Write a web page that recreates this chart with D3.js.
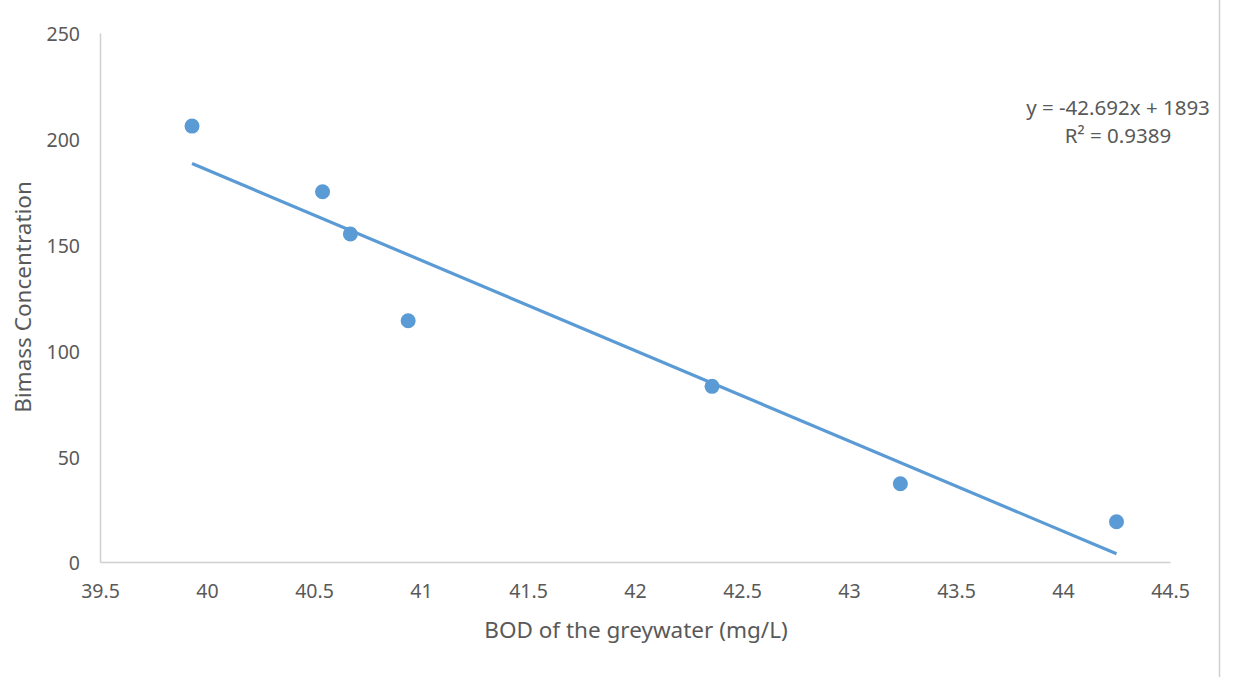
<!DOCTYPE html>
<html>
<head>
<meta charset="utf-8">
<script src="https://cdn.jsdelivr.net/npm/d3@7"></script>
<style>
  body { margin: 0; background: #fff; }
  text { font-family: "Noto Sans", "Open Sans", sans-serif; fill: #595959; }
</style>
</head>
<body>
<div id="chart"></div>
<script>
// data
var bodValues = [39.93, 40.54, 40.67, 40.94, 42.36, 43.24, 44.25];
var biomassValues = [206, 175, 155, 114, 83, 37, 19];
var xTicks = [39.5, 40, 40.5, 41, 41.5, 42, 42.5, 43, 43.5, 44, 44.5];
var yTicks = [0, 50, 100, 150, 200, 250];
var slope = -42.692;
var intercept = 1893;
var eqLabel = "y = -42.692x + 1893";
var r2Label = "R\u00b2 = 0.9389";

var totalW = 1233, totalH = 677;
var margin = {top: 33, right: 63, bottom: 115, left: 100};
const width = totalW - margin.left - margin.right;
const height = totalH - margin.top - margin.bottom;

var svg = d3.select("#chart").append("svg")
    .attr("width", totalW)
    .attr("height", totalH);

var g = svg.append("g")
    .attr("transform", "translate(" + margin.left + "," + margin.top + ")");

const xScale = d3.scaleLinear().domain([39.5, 44.5]).range([0, width]);
const yScale = d3.scaleLinear().domain([0, 250]).range([height, 0]);

// axes
var yAxis = g.append("g")
    .call(d3.axisLeft(yScale).tickValues(yTicks).tickSize(0).tickPadding(20));
yAxis.select(".domain").attr("stroke", "#d0d0d0").attr("stroke-width", 1.5);
yAxis.selectAll("text")
    .style("font-size", "19.5px")
    .attr("dy", "0.4em")
    .attr("fill", "#595959");

var xAxis = g.append("g")
    .attr("transform", "translate(0," + height + ")")
    .call(d3.axisBottom(xScale).tickValues(xTicks).tickSize(0).tickPadding(22)
        .tickFormat(function(d) { return String(d); }));
xAxis.select(".domain").attr("stroke", "#d0d0d0").attr("stroke-width", 1.5);
xAxis.selectAll("text").style("font-size", "19.5px").attr("fill", "#595959");

// trend line
var xMin = d3.min(bodValues), xMax = d3.max(bodValues);
g.append("line")
    .attr("x1", xScale(xMin))
    .attr("y1", yScale(slope * xMin + intercept))
    .attr("x2", xScale(xMax))
    .attr("y2", yScale(slope * xMax + intercept))
    .attr("stroke", "#5B9BD5")
    .attr("stroke-width", 3.2);

// points
g.selectAll(".dot")
    .data(bodValues)
    .enter().append("circle")
    .attr("class", "dot")
    .attr("cx", function(d) { return xScale(d); })
    .attr("cy", function(d, i) { return yScale(biomassValues[i]); })
    .attr("r", 7.5)
    .attr("fill", "#5B9BD5");

// equation
svg.append("text")
    .attr("x", 1118).attr("y", 115)
    .style("font-size", "20.5px")
    .style("text-anchor", "middle")
    .text(eqLabel);
svg.append("text")
    .attr("x", 1118).attr("y", 143)
    .style("font-size", "20.5px")
    .style("text-anchor", "middle")
    .text(r2Label);

// axis titles
svg.append("text")
    .attr("transform", "translate(31," + 297 + ") rotate(-90)")
    .style("font-size", "22.5px")
    .style("text-anchor", "middle")
    .text("Bimass Concentration");

svg.append("text")
    .attr("x", 636)
    .attr("y", 638)
    .style("font-size", "22.5px")
    .style("text-anchor", "middle")
    .text("BOD of the greywater (mg/L)");

// frame edge on the right
svg.append("line")
    .attr("x1", 1219.5).attr("x2", 1219.5)
    .attr("y1", 0).attr("y2", totalH)
    .attr("stroke", "#d0d0d0")
    .attr("stroke-width", 1.5);
</script>
</body>
</html>
